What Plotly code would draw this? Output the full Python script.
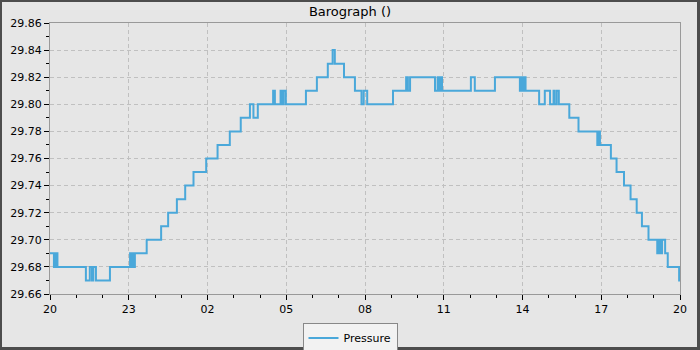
import plotly.graph_objects as go
from datetime import datetime, timedelta

# ---- data ----
times = ["20:00", "20:09", "20:13", "20:17", "21:22", "21:31", "21:36", "21:39", "21:45", "22:17",
         "23:03", "23:06", "23:10", "23:12", "23:14", "23:41", "00:14", "00:30", "00:50", "01:09",
         "01:28", "01:57", "02:23", "02:51", "03:16", "03:37", "03:45", "03:55", "04:30", "04:34",
         "04:47", "04:51", "04:54", "04:59", "05:45", "06:10", "06:35", "06:46", "06:51", "07:12",
         "07:37", "07:52", "07:57", "08:05", "09:04", "09:34", "09:38", "09:43", "10:40", "10:46",
         "10:49", "10:53", "10:56", "12:02", "12:11", "12:57", "13:54", "13:58", "14:01", "14:05",
         "14:07", "14:38", "14:51", "15:03", "15:11", "15:13", "15:18", "15:23", "15:47", "16:08",
         "16:51", "16:55", "16:57", "17:22", "17:35", "17:52", "18:07", "18:21", "18:33", "18:48",
         "19:08", "19:11", "19:15", "19:19", "19:26", "19:32", "19:58", "20:00"]
pressure = [29.69, 29.68, 29.69, 29.68, 29.67, 29.68, 29.67, 29.68, 29.67, 29.68,
            29.69, 29.68, 29.69, 29.68, 29.69, 29.70, 29.71, 29.72, 29.73, 29.74,
            29.75, 29.76, 29.77, 29.78, 29.79, 29.80, 29.79, 29.80, 29.81, 29.80,
            29.81, 29.80, 29.81, 29.80, 29.81, 29.82, 29.83, 29.84, 29.83, 29.82,
            29.81, 29.80, 29.81, 29.80, 29.81, 29.82, 29.81, 29.82, 29.81, 29.82,
            29.81, 29.82, 29.81, 29.82, 29.81, 29.82, 29.81, 29.82, 29.81, 29.82,
            29.81, 29.80, 29.81, 29.80, 29.81, 29.80, 29.81, 29.80, 29.79, 29.78,
            29.77, 29.78, 29.77, 29.76, 29.75, 29.74, 29.73, 29.72, 29.71, 29.70,
            29.69, 29.70, 29.69, 29.70, 29.69, 29.68, 29.67, 29.67]
start_date = "2024-01-01"
y_range = [29.66, 29.86]
title_text = "Barograph ()"
series_name = "Pressure"

# build datetimes (roll over to next day after midnight)
base = datetime.strptime(start_date, "%Y-%m-%d")
xs = []
day = 0
prev = None
for t in times:
    hh, mm = map(int, t.split(":"))
    mins = hh * 60 + mm
    if prev is not None and mins < prev:
        day += 1
    prev = mins
    xs.append(base + timedelta(days=day, minutes=mins))
if xs[-1] <= xs[0]:
    xs[-1] = xs[-1] + timedelta(days=1)
x_start = xs[0]
x_end = x_start + timedelta(days=1)

FONT = "DejaVu Sans"
fig = go.Figure()
fig.add_trace(go.Scatter(
    x=xs, y=pressure, mode="lines", name=series_name,
    line=dict(color="#4aa8da", width=2, shape="hv"),
    showlegend=True,
))

W, H = 700, 350
L, R, T, B = 50, 20, 23, 56
pw, ph = W - L - R, H - T - B

def px_x(p):
    return (p - L) / pw

def px_y(p):
    return (H - B - p) / ph

shapes = []
dark = "#4d4d4d"
for (x0, x1, y0, y1) in [(0, 2, 0, 350), (0, 700, 0, 2), (697, 700, 0, 350), (0, 700, 347, 350)]:
    shapes.append(dict(type="rect", xref="paper", yref="paper",
                       x0=px_x(x0), x1=px_x(x1), y0=px_y(y1), y1=px_y(y0),
                       fillcolor=dark, line=dict(width=0), layer="above"))

GRID_DASH = "4px,3px"
fig.update_layout(
    width=W, height=H,
    margin=dict(l=L, r=R, t=T, b=B, autoexpand=False),
    paper_bgcolor="#e6e6e6", plot_bgcolor="#e6e6e6",
    font=dict(family=FONT, size=11, color="#000"),
    title=dict(text=title_text, x=0.5, xref="container", y=1 - 11 / H, yref="container",
               xanchor="center", yanchor="middle", font=dict(family=FONT, size=13, color="#000")),
    showlegend=True,
    legend=dict(orientation="h", xref="container", yref="container",
                x=0.5, xanchor="center", y=1 - 338 / H, yanchor="middle",
                bgcolor="#f2f2f2", bordercolor="#888888", borderwidth=1,
                font=dict(family=FONT, size=11, color="#000"), itemwidth=30),
    shapes=shapes,
    xaxis=dict(type="date", range=[x_start, x_end], tick0=x_start, dtick=3 * 3600 * 1000,
               tickformat="%H", ticks="outside", ticklen=5, tickcolor="#000",
               showline=True, linecolor="#999999", mirror=True, linewidth=1,
               showgrid=True, gridcolor="#c0c0c0", griddash=GRID_DASH, gridwidth=1,
               zeroline=False, automargin=False,
               minor=dict(dtick=3600 * 1000, ticks="outside", ticklen=3, tickcolor="#000", showgrid=False),
               tickfont=dict(family=FONT, size=11, color="#000")),
    yaxis=dict(range=y_range, dtick=0.02, tickformat=".2f", ticks="outside", ticklen=5, tickcolor="#000",
               showline=True, linecolor="#999999", mirror=True, linewidth=1,
               showgrid=True, gridcolor="#c0c0c0", griddash=GRID_DASH, gridwidth=1,
               zeroline=False, automargin=False,
               minor=dict(dtick=0.01, ticks="outside", ticklen=3, tickcolor="#000", showgrid=False),
               tickfont=dict(family=FONT, size=11, color="#000")),
)

fig.write_html("out.html")
